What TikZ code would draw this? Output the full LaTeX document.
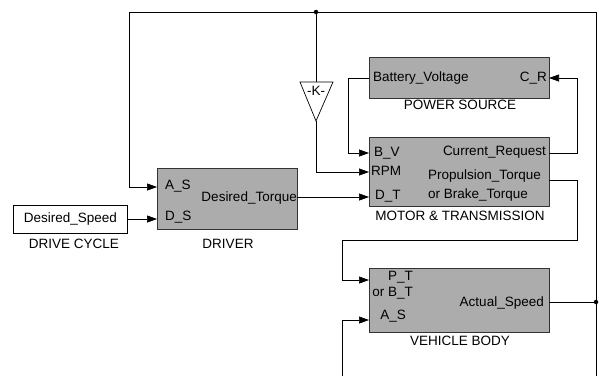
\documentclass[tikz,border=0pt]{standalone}
\usepackage{fontspec}
\setmainfont{Liberation Sans}
\usetikzlibrary{arrows.meta}
\begin{document}
\begin{tikzpicture}[x=1pt,y=-1pt,
  every node/.style={font=\fontsize{13.5}{15}\selectfont, inner sep=0pt},
  block/.style={draw=black!80, line width=0.8pt, fill={rgb,255:red,172;green,172;blue,172}, anchor=north west},
  plain/.style={draw=black, line width=0.8pt, fill=white, anchor=north west},
  wire/.style={draw=black, line width=0.7pt},
  arr/.style={wire, -{Triangle[length=10pt,width=7pt]}},
  dot/.style={circle, fill=black, minimum size=4.5pt, inner sep=0pt}
]
\useasboundingbox (0,0) rectangle (599,376);

% blocks
\node[plain, minimum width=114pt, minimum height=28pt] (dc) at (13,205) {};
\node at (dc.center) {Desired\_Speed};
\node[anchor=north] (dclab) at (74,239) {DRIVE CYCLE};

\node[block, minimum width=140pt, minimum height=61pt] (drv) at (157,168) {};
\node[anchor=west] (drvA) at (165,186) {A\_S};
\node[anchor=east] (drvT) at (297,198) {Desired\_Torque};
\node[anchor=west] (drvD) at (165,217) {D\_S};
\node[anchor=north] (drvlab) at (228,239) {DRIVER};

\node[block, minimum width=180pt, minimum height=41pt] (ps) at (369,57) {};
\node[anchor=west] (psB) at (373,78) {Battery\_Voltage};
\node[anchor=east] (psC) at (547,78) {C\_R};
\node[anchor=north] (pslab) at (460,100) {POWER SOURCE};

\node[block, minimum width=180pt, minimum height=69pt] (mt) at (369,137) {};
\node[anchor=west] (mtB) at (374,153) {B\_V};
\node[anchor=west] (mtR) at (371,171) {RPM};
\node[anchor=west] (mtD) at (375,196) {D\_T};
\node[anchor=east] (mtC) at (546,152) {Current\_Request};
\node[anchor=west] (mtP) at (428,176) {Propulsion\_Torque};
\node[anchor=west] (mtO) at (428,195) {or Brake\_Torque};
\node[anchor=north] (mtlab) at (460,211) {MOTOR \& TRANSMISSION};

\node[block, minimum width=180pt, minimum height=64pt] (vb) at (369,268) {};
\node[anchor=east] (vbP) at (413,277) {P\_T};
\node[anchor=east] (vbO) at (413,293) {or B\_T};
\node[anchor=east] (vbA) at (406,316) {A\_S};
\node[anchor=east] (vbS) at (544,303) {Actual\_Speed};
\node[anchor=north] (vblab) at (460,336) {VEHICLE BODY};

% gain
\coordinate (ktop) at (316,82);
\coordinate (ktip) at (316,121);
\draw[wire] (300,82) -- (333,82) -- (ktip) -- cycle;
\node (klab) at (316,91) {-K-};

% ports
\coordinate (drvAS) at (157,187);
\coordinate (drvDS) at (157,219);
\coordinate (drvDT) at (297,197);
\coordinate (psBV) at (369,78);
\coordinate (psCR) at (549,78);
\coordinate (mtBV) at (369,153);
\coordinate (mtRPM) at (369,172);
\coordinate (mtDT) at (369,197);
\coordinate (mtCR) at (549,153);
\coordinate (mtPT) at (549,180);
\coordinate (vbPT) at (369,280);
\coordinate (vbAS) at (369,320);
\coordinate (vbOut) at (549,302);

\node[dot] (j1) at (316,12) {};
\node[dot] (j2) at (596,302) {};
\coordinate (bot1) at (596,376);
\coordinate (bot2) at (342,376);

% wires
\draw[arr] (j1.center) -- (129,12) |- (drvAS);
\draw[wire] (j1.center) -- (596,12) -- (j2.center);
\draw[wire] (j2.center) -- (bot1);
\draw[wire] (vbOut) -- (j2.center);
\draw[wire] (j1.center) -- (ktop);
\draw[arr] (ktip) |- (mtRPM);
\draw[arr] (dc.east |- drvDS) -- (drvDS);
\draw[arr] (drvDT) -- (mtDT);
\draw[arr] (psBV) -- (348,78) |- (mtBV);
\draw[arr] (mtCR) -- (577,153) |- (psCR);
\draw[arr] (mtPT) -- (577,180) -- (577,240) -- (342,240) |- (vbPT);
\draw[arr] (bot2) |- (vbAS);
\end{tikzpicture}
\end{document}
